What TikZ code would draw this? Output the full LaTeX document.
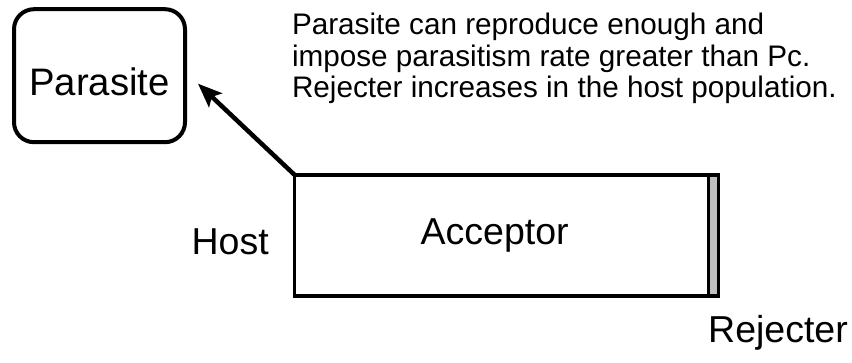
\documentclass[tikz,border=0pt]{standalone}
\usepackage{fontspec}
\setmainfont{Liberation Sans}
\usetikzlibrary{positioning}
\usetikzlibrary{arrows.meta}
\tikzstyle{bigT} = [font=\fontsize{37.5}{40}\selectfont, inner sep=0pt, outer sep=0pt]
\tikzstyle{noteT} = [font=\fontsize{29.7}{31.5}\selectfont, inner sep=0pt, outer sep=0pt, align=left]
\tikzstyle{agent} = [draw=black, line width=4pt, rounded corners=20pt, minimum width=171pt, minimum height=133pt, inner sep=0pt, outer sep=0pt]
\tikzstyle{strategy} = [draw=black, line width=3.5pt, minimum height=121pt, inner sep=0pt, outer sep=0pt]

\begin{document}
\begin{tikzpicture}[x=1pt, y=1pt]
\useasboundingbox (0,0) rectangle (852,362);

% Define nodes
\node[agent, bigT, font=\fontsize{38.3}{40}\selectfont, text height=44pt, text depth=5pt] (par) at (99.5,286.3) {Parasite};
\node[strategy, bigT, minimum width=414pt]             (acc) at (501.7,126.5) {\hspace*{-14pt}Acceptor};
\node[strategy, fill=black!25, minimum width=10pt, right = 0pt of acc] (rej) {};

\node[bigT, anchor=base east] (host)  at ([xshift=-26pt, yshift=-19.5pt]acc.west) {Host};
\node[bigT, anchor=base west] (rejT)  at ([xshift=-0.5pt, yshift=-46pt]rej.south west) {Rejecter};
\node[noteT, anchor=base west] (note) at (292,264) {Parasite can reproduce enough and\\impose parasitism rate greater than Pc.\\Rejecter increases in the host population.};

% Edges
\draw[line width=4.5pt, -{Stealth[length=24pt, width=19pt, inset=5pt]}] (acc.north west) -- ([xshift=13pt, yshift=-8pt]par.east);
\end{tikzpicture}
\end{document}
